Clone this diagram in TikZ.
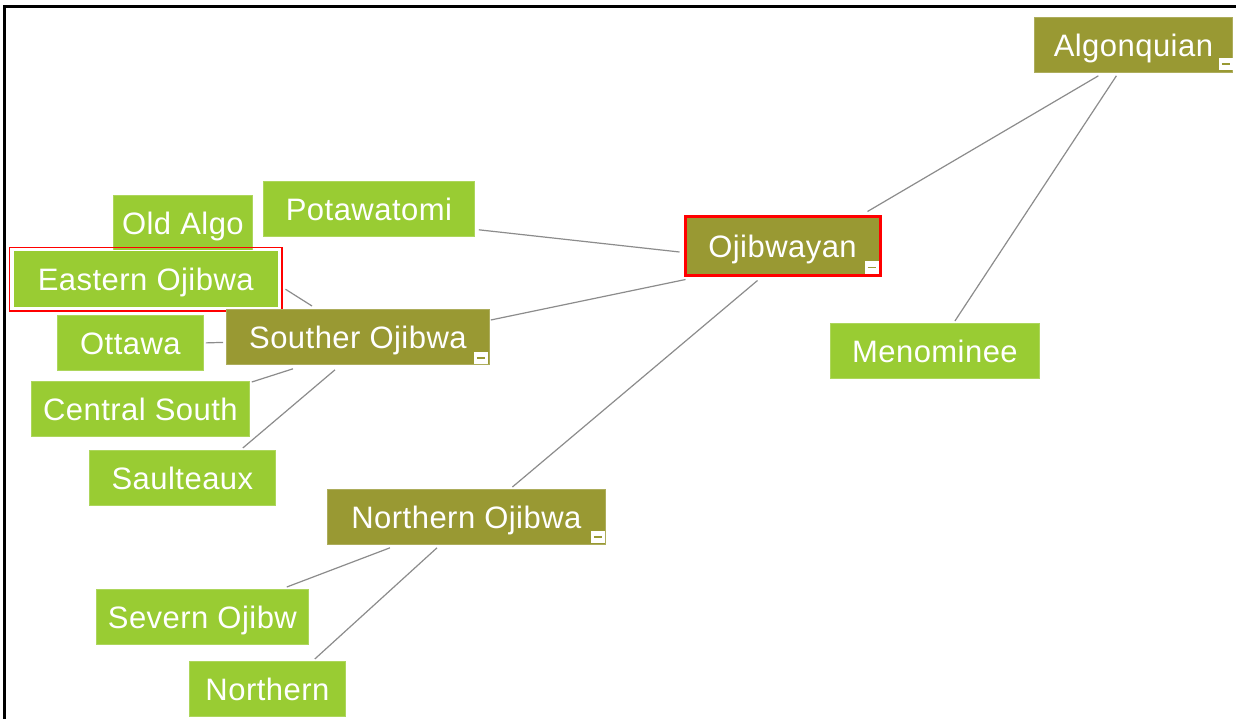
\documentclass[tikz,border=0pt]{standalone}
\usepackage{fontspec}
\setmainfont[LetterSpace=1.5]{Liberation Sans}
\definecolor{leafgreen}{HTML}{99CC33}
\definecolor{olivebox}{HTML}{999933}
\definecolor{edgegray}{HTML}{8C8C8C}
\begin{document}
\begin{tikzpicture}[x=1pt,y=-1pt,
  box/.style={rectangle,inner sep=0pt,text=white,minimum height=55pt,
    text height=23pt,text depth=0pt,
    font=\fontsize{31}{31}\selectfont,anchor=north west},
  leaf/.style={box,fill=leafgreen,draw=leafgreen!80!white,line width=0.8pt},
  group/.style={box,fill=olivebox,draw=olivebox!80!white,line width=0.8pt},
  link/.style={draw=edgegray,line width=1.2pt},
  frame/.style={draw=black,line width=3pt}]
\useasboundingbox (0,0) rectangle (1236,719);
\fill[white] (0,0) rectangle (1236,719);
\draw[frame] (4,719) -- (4,7) -- (1236,7);
% nodes
\node[group,minimum width=198pt] (alg) at (1034,17) {Algonquian};
\node[group,minimum width=195pt,minimum height=58pt,draw=red,line width=3pt] (oj) at (683.5,215.5) {Ojibwayan};
\node[leaf,minimum width=211pt] (pot) at (263,181) {Potawatomi};
\node[leaf,minimum width=139pt] (old) at (113,195) {Old Algo};
\node[leaf,minimum width=266pt,minimum height=57pt,draw=white,line width=1.5pt] (eo) at (12,250) {Eastern Ojibwa};
\draw[red,line width=1.2pt] ([shift={(-2.5,-2.5)}]eo.north west) rectangle ([shift={(2.5,2.5)}]eo.south east);
\node[leaf,minimum width=146pt] (ot) at (57,315) {Ottawa};
\node[group,minimum width=263pt] (so) at (226,309) {Souther Ojibwa};
\node[leaf,minimum width=218pt] (cs) at (31,381) {Central South};
\node[leaf,minimum width=186pt] (sa) at (89,450) {Saulteaux};
\node[leaf,minimum width=209pt] (men) at (830,323) {Menominee};
\node[group,minimum width=278pt] (no) at (327,489) {Northern Ojibwa};
\node[leaf,minimum width=212pt] (sv) at (96,589) {Severn Ojibw};
\node[leaf,minimum width=156pt] (nn) at (189,661) {Northern};
% minus markers
\foreach \n/\dx/\dy in {alg/0/-3, oj/-3/-3, so/-2/-1, no/-1/-2}{
  \fill[white] ([shift={(\dx-14,\dy-12)}]\n.south east) rectangle ([shift={(\dx,\dy)}]\n.south east);
  \draw[olivebox,line width=1.5pt] ([shift={(\dx-11,\dy-6)}]\n.south east) -- ([shift={(\dx-3,\dy-6)}]\n.south east);
}
% connectors
\draw[link] ([shift={(-35,3)}]alg.south) -- ([shift={(85,-4)}]oj.north);
\draw[link] ([shift={(-17,3)}]alg.south) -- ([shift={(20,-2)}]men.north);
\draw[link] ([shift={(4,-7)}]pot.south east) -- ([shift={(-4,6)}]oj.west);
\draw[link] ([shift={(1,11)}]so.north east) -- ([shift={(2,3)}]oj.south west);
\draw[link] ([shift={(-25,4)}]oj.south) -- ([shift={(46,-2)}]no.north);
\draw[link] ([shift={(6,10)}]eo.east) -- ([shift={(86,-3)}]so.north west);
\draw[link] ([shift={(2,0)}]ot.east) -- ([shift={(-3,5.5)}]so.west);
\draw[link] ([shift={(2,1)}]cs.north east) -- ([shift={(67,4)}]so.south west);
\draw[link] ([shift={(-33,-2)}]sa.north east) -- ([shift={(109,5)}]so.south west);
\draw[link] ([shift={(63,3)}]no.south west) -- ([shift={(-22,-2)}]sv.north east);
\draw[link] ([shift={(110,3)}]no.south west) -- ([shift={(-31,-2)}]nn.north east);
\end{tikzpicture}
\end{document}
